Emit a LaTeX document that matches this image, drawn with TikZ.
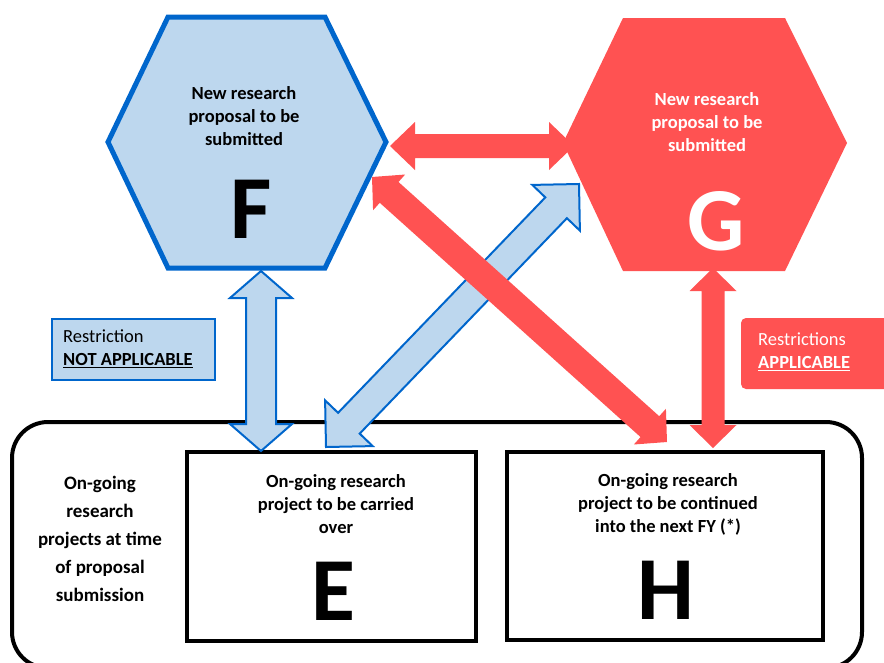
\documentclass[tikz,border=0pt]{standalone}
\usepackage{fontspec}
\setmainfont{Carlito}
\usetikzlibrary{calc}
\definecolor{paleblue}{HTML}{BDD7EE}
\definecolor{deepblue}{HTML}{0066CC}
\definecolor{coral}{HTML}{FF5252}
% #1 style, #2 from, #3 to, #4 head length, #5 head half width, #6 shaft half width
\newcommand{\fatarrow}[6]{%
  \path[#1] (#2) -- ($(#2)!#4!(#3)!#5!90:(#3)$) -- ($(#2)!#4!(#3)!#6!90:(#3)$)
    -- ($(#3)!#4!(#2)!#6!-90:(#2)$) -- ($(#3)!#4!(#2)!#5!-90:(#2)$) -- (#3)
    -- ($(#3)!#4!(#2)!#5!90:(#2)$) -- ($(#3)!#4!(#2)!#6!90:(#2)$)
    -- ($(#2)!#4!(#3)!#6!-90:(#3)$) -- ($(#2)!#4!(#3)!#5!-90:(#3)$) -- cycle;}

\begin{document}
\begin{tikzpicture}[x=1pt,y=-1pt,
        box text/.style={font=\bfseries\fontsize{18.5}{23}\selectfont,align=center,inner sep=0pt},
        big letter/.style={font=\bfseries\fontsize{90}{90}\selectfont,inner sep=0pt},
        blue arrow/.style={fill=paleblue,draw=deepblue,line width=2pt},
        red arrow/.style={fill=coral},
        frame/.style={draw=black,line width=4pt}]

        \useasboundingbox (0,0) rectangle (884,662);

        % Define shapes
        \draw[frame,rounded corners=36pt] (12,422) rectangle (862,668);
        \draw[frame] (187,452) rectangle (476,641);
        \draw[frame] (507,452) rectangle (823,640);
        \filldraw[fill=paleblue,draw=deepblue,line width=5pt]
            (108,142) -- (168,17) -- (325,17) -- (386,142) -- (325,268) -- (168,268) -- cycle;
        \fill[coral] (563,143) -- (623,18) -- (785,18) -- (847,143) -- (785,271) -- (623,271) -- cycle;
        \filldraw[fill=paleblue,draw=deepblue,line width=2pt] (52,319) rectangle (215,380);
        \fill[coral,rounded corners=5pt] (741,318) rectangle (900,389);

        % Define text
        \node[box text] (Ftext) at (244,116) {New research\\proposal to be\\submitted};
        \node[big letter] (F) at (251,209) {F};
        \node[box text,text=white] (Gtext) at (707,122) {New research\\proposal to be\\submitted};
        \node[big letter,text=white] (G) at (716,221) {G};
        \node[box text] (Etext) at (336,504) {On-going research\\project to be carried\\over};
        \node[big letter] (E) at (333,591) {E};
        \node[box text] (Htext) at (668,504) {On-going research\\project to be continued\\into the next FY (*)};
        \node[big letter] (H) at (666,590) {H};
        \node[box text,font=\bfseries\fontsize{19}{28}\selectfont] (now) at (100,539)
            {On-going\\research\\projects at time\\of proposal\\submission};
        \node[box text,font=\fontsize{18.5}{23}\selectfont,align=left,anchor=west] (nolimit) at (63,349)
            {Restriction\\\textbf{\underline{NOT APPLICABLE}}};
        \node[box text,font=\fontsize{18.5}{23}\selectfont,align=left,anchor=west,text=white] (limit) at (758,352)
            {Restrictions\\\textbf{\underline{APPLICABLE}}};

        % Arrow ends
        \coordinate (F-east) at (390,146);
        \coordinate (G-west) at (574,146);
        \coordinate (F-south) at (261,271);
        \coordinate (E-north) at (261,451);
        \coordinate (G-southwest) at (579,184);
        \coordinate (E-northeast) at (326,447);
        \coordinate (F-southeast) at (372,177);
        \coordinate (H-north) at (667,442);
        \coordinate (G-south) at (713,268);
        \coordinate (H-northeast) at (713,448);

        % Draw arrows
        \fatarrow{red arrow}{F-east}{G-west}{25pt}{24pt}{12pt}
        \fatarrow{blue arrow}{F-south}{E-north}{27pt}{31pt}{15pt}
        \fatarrow{blue arrow}{E-northeast}{G-southwest}{33pt}{33pt}{15pt}
        \fatarrow{red arrow}{F-southeast}{H-north}{23pt}{24pt}{14pt}
        \fatarrow{red arrow}{G-south}{H-northeast}{23pt}{23.5pt}{11.5pt}

\end{tikzpicture}
\end{document}
